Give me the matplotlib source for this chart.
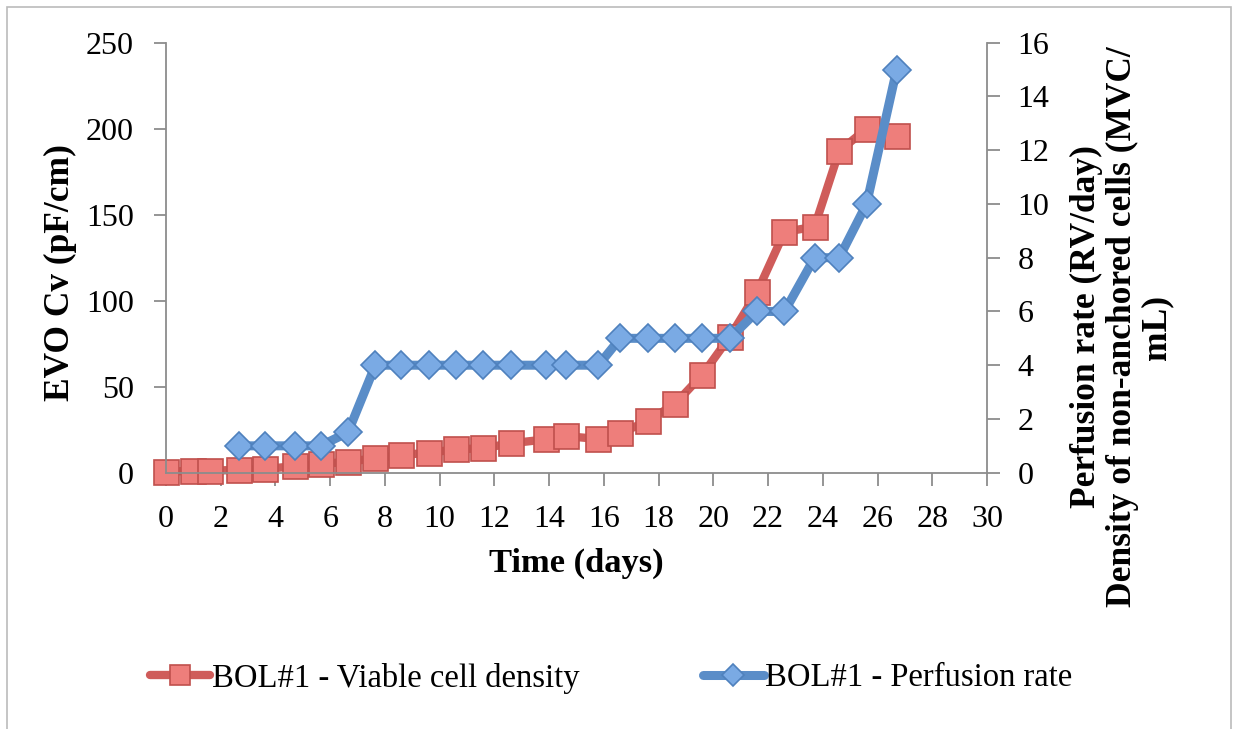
import matplotlib
matplotlib.use("Agg")
import matplotlib.pyplot as plt
from matplotlib.patches import Rectangle

# time points (days)
days = [0, 1, 1.6, 2.65, 3.6, 4.7, 5.65, 6.65, 7.65, 8.6, 9.6, 10.6, 11.6, 12.6,
        13.9, 14.6, 15.8, 16.6, 17.6, 18.6, 19.6, 20.6, 21.6, 22.6, 23.7, 24.6,
        25.6, 26.7]
# viable cell density, EVO Cv (pF/cm), left axis
vcd = [0.5, 1.2, 1.2, 1.6, 2, 3.9, 5, 6.4, 8.4, 10.3, 11.6, 13.6, 14.2, 17.1,
       19.4, 21.3, 19.6, 23, 30, 40, 57, 79, 105, 140, 143, 187, 200, 196]
# perfusion rate (RV/day), right axis, starts on day 2.65
perf_days = days[3:]
perf = [1, 1, 1, 1, 1.5, 4, 4, 4, 4, 4, 4, 4, 4, 4, 5, 5, 5, 5, 5, 6, 6, 8, 8,
        10, 15]

W, H = 1235, 729
plt.rcParams['font.family'] = ['Liberation Serif', 'DejaVu Serif']

fig = plt.figure(figsize=(W / 100, H / 100), dpi=100)
fig.patch.set_facecolor('white')

# outer frame of the chart object
fig.add_artist(Rectangle((7 / W, -0.02), (1231 - 7) / W, (H - 7) / H + 0.02,
                         transform=fig.transFigure, fill=False,
                         edgecolor='#BBBBBB', linewidth=1.2))

x0, x1, ytop, ybot = 166, 987, 42.7, 472.7
ax = fig.add_axes([x0 / W, (H - ybot) / H, (x1 - x0) / W, (ybot - ytop) / H])
ax2 = ax.twinx()

grey = '#8C8C8C'
red_line, red_face, red_edge = '#CF5C5A', '#EE7E7B', '#C0504D'
blue_line, blue_face, blue_edge = '#5A8DC8', '#7AAAE4', '#4F81BD'

l1, = ax.plot(days, vcd, color=red_line, linewidth=6.0, marker='s',
              markersize=18, markerfacecolor=red_face,
              markeredgecolor=red_edge, markeredgewidth=1.2,
              solid_capstyle='round', clip_on=False,
              label='BOL#1 - Viable cell density')
l2, = ax2.plot(perf_days, perf, color=blue_line, linewidth=6.5, marker='D',
               markersize=13.8, markerfacecolor=blue_face,
               markeredgecolor=blue_edge, markeredgewidth=1.2,
               solid_capstyle='round', clip_on=False,
               label='BOL#1 - Perfusion rate')

ax.set_xlim(0, 30)
ax.set_ylim(0, 250)
ax2.set_ylim(0, 16)
ax.set_xticks(range(0, 31, 2))
ax.set_yticks(range(0, 251, 50))
ax2.set_yticks(range(0, 17, 2))

for a in (ax, ax2):
    a.set_facecolor('none')
    a.spines['top'].set_visible(False)
    for s in a.spines.values():
        s.set_color(grey)
        s.set_linewidth(1.3)
    a.tick_params(colors=grey, labelcolor='black', labelsize=23,
                  width=1.3, length=9)
ax.spines['right'].set_visible(False)
ax2.spines['left'].set_visible(False)
ax2.spines['bottom'].set_visible(False)
ax.tick_params(axis='x', pad=14)
ax.tick_params(axis='y', pad=14)
ax2.tick_params(axis='y', pad=13)
ax.patch.set_visible(False)

fig.text(60 / W, 1 - 273 / H, 'EVO Cv (pF/cm)', rotation=90, ha='center',
         va='center', fontsize=25.5, fontweight='bold')
fig.text(576 / W, 1 - 563 / H, 'Time (days)', ha='center', va='center',
         fontsize=24.8, fontweight='bold')
fig.text(1122 / W, 1 - 327 / H,
         'Perfusion rate (RV/day)\nDensity of non-anchored cells (MVC/\nmL)',
         rotation=90, ha='center', va='center', multialignment='center',
         fontsize=25.5, fontweight='bold', linespacing=1.08)

fig.legend(handles=[l1, l2], loc='center', ncol=2,
           bbox_to_anchor=(611 / W, 51 / H), frameon=False, fontsize=23.5,
           handlelength=1.85, handletextpad=0.05, columnspacing=3.8,
           markerscale=0.8)

fig.savefig('out.png', dpi=100)
